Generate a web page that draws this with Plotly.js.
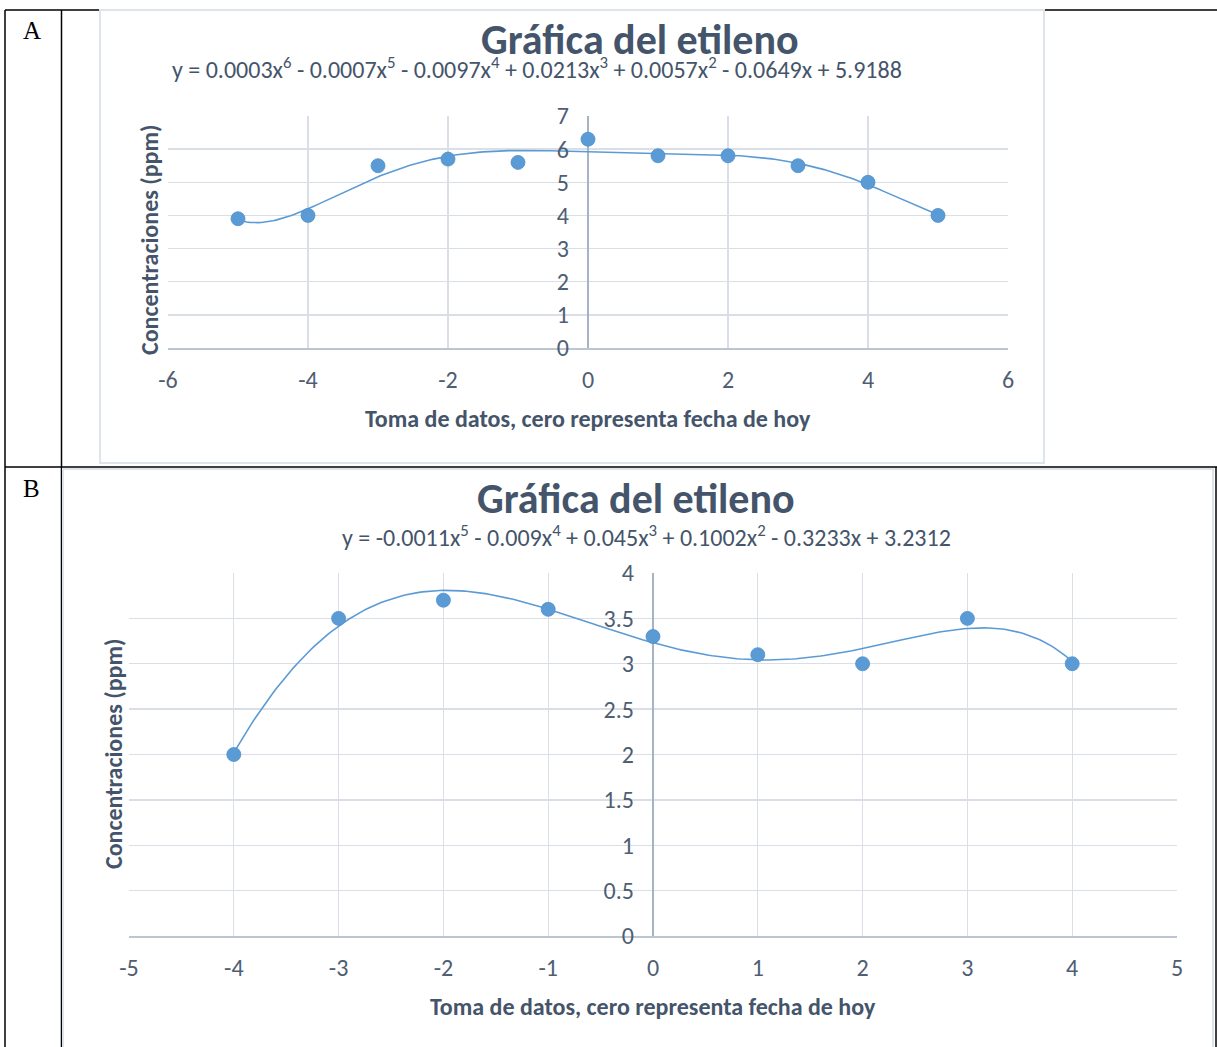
<!DOCTYPE html>
<html>
<head>
<meta charset="utf-8">
<script src="https://cdn.plot.ly/plotly-3.0.1.min.js"></script>
<style>
  html, body { margin: 0; padding: 0; background: #ffffff; }
  #chart { width: 1217px; height: 1047px; }
</style>
</head>
<body>
<div id="chart"></div>
<script>
// Ethylene readings: day offset (0 = today) and concentration in ppm
const daysA = [-5, -4, -3, -2, -1, 0, 1, 2, 3, 4, 5];
const ppmA  = [3.9, 4.0, 5.5, 5.7, 5.6, 6.3, 5.8, 5.8, 5.5, 5.0, 4.0];
const daysB = [-4, -3, -2, -1, 0, 1, 2, 3, 4];
const ppmB  = [2.0, 3.5, 3.7, 3.6, 3.3, 3.1, 3.0, 3.5, 3.0];

// Polynomial trendline order for each chart
const orderA = 6;
const orderB = 5;

// Axis ticks
const xTickValsA = [-6, -4, -2, 0, 2, 4, 6];
const xTickTextA = ['-6', '-4', '-2', '0', '2', '4', '6'];
const yTickValsA = [0, 1, 2, 3, 4, 5, 6, 7];
const yTickTextA = ['0', '1', '2', '3', '4', '5', '6', '7'];
const xTickValsB = [-5, -4, -3, -2, -1, 0, 1, 2, 3, 4, 5];
const xTickTextB = ['-5', '-4', '-3', '-2', '-1', '0', '1', '2', '3', '4', '5'];
const yTickValsB = [0, 0.5, 1, 1.5, 2, 2.5, 3, 3.5, 4];
const yTickTextB = ['0', '0.5', '1', '1.5', '2', '2.5', '3', '3.5', '4'];

// Labels
const titleText = 'Gráfica del etileno';
const xTitle = 'Toma de datos, cero representa fecha de hoy';
const yTitle = 'Concentraciones (ppm)';
const eqA = 'y = 0.0003x<sup>6</sup> - 0.0007x<sup>5</sup> - 0.0097x<sup>4</sup> + 0.0213x<sup>3</sup> + 0.0057x<sup>2</sup> - 0.0649x + 5.9188';
const eqB = 'y = -0.0011x<sup>5</sup> - 0.009x<sup>4</sup> + 0.045x<sup>3</sup> + 0.1002x<sup>2</sup> - 0.3233x + 3.2312';
const panelLabels = ['A', 'B'];

// Least-squares polynomial fit (normal equations, Gaussian elimination)
function polyFit(xs, ys, deg) {
  const n = deg + 1;
  const M = [];
  for (let i = 0; i < n; i++) {
    const row = [];
    for (let j = 0; j < n; j++) {
      let s = 0;
      for (let k = 0; k < xs.length; k++) s += Math.pow(xs[k], i + j);
      row.push(s);
    }
    let r = 0;
    for (let k = 0; k < xs.length; k++) r += ys[k] * Math.pow(xs[k], i);
    row.push(r);
    M.push(row);
  }
  for (let c = 0; c < n; c++) {
    let p = c;
    for (let r = c + 1; r < n; r++) if (Math.abs(M[r][c]) > Math.abs(M[p][c])) p = r;
    [M[c], M[p]] = [M[p], M[c]];
    for (let r = 0; r < n; r++) {
      if (r === c) continue;
      const f = M[r][c] / M[c][c];
      for (let k = c; k <= n; k++) M[r][k] -= f * M[c][k];
    }
  }
  return M.map((row, i) => row[n] / row[i]);
}
function trend(xs, ys, deg) {
  const coef = polyFit(xs, ys, deg);
  const lo = Math.min(...xs), hi = Math.max(...xs);
  const tx = [], ty = [];
  const steps = 240;
  for (let i = 0; i <= steps; i++) {
    const x = lo + (hi - lo) * i / steps;
    let y = 0;
    for (let k = coef.length - 1; k >= 0; k--) y = y * x + coef[k];
    tx.push(x); ty.push(y);
  }
  return { x: tx, y: ty };
}

// Page geometry helpers (pixel -> paper fraction)
const W = 1217, H = 1047;
const fx = p => p / W;
const fy = p => 1 - p / H;

const FONT = 'Carlito, Calibri, Lato, sans-serif';
const TXT = '#44546a';
const TICK = '#4f5e73';
const BLUE = '#5b9bd5';
const GRID = '#d9dee7';

const tA = trend(daysA, ppmA, orderA);
const tB = trend(daysB, ppmB, orderB);

const traces = [
  { x: tA.x, y: tA.y, xaxis: 'x', yaxis: 'y', mode: 'lines',
    line: { color: BLUE, width: 1.6 }, hoverinfo: 'skip', showlegend: false },
  { x: daysA, y: ppmA, xaxis: 'x', yaxis: 'y', mode: 'markers',
    marker: { color: BLUE, size: 14, line: { color: '#4f8fcb', width: 0.8 } }, showlegend: false },
  { x: tB.x, y: tB.y, xaxis: 'x2', yaxis: 'y2', mode: 'lines',
    line: { color: BLUE, width: 1.6 }, hoverinfo: 'skip', showlegend: false },
  { x: daysB, y: ppmB, xaxis: 'x2', yaxis: 'y2', mode: 'markers',
    marker: { color: BLUE, size: 14, line: { color: '#4f8fcb', width: 0.8 } }, showlegend: false }
];

function xAxis(dom, range, vals, text, yref) {
  return {
    domain: [fx(dom[0]), fx(dom[1])], range: range,
    tickmode: 'array', tickvals: vals, ticktext: text,
    anchor: yref, showgrid: true, gridcolor: GRID, gridwidth: 1.3,
    zeroline: true, zerolinecolor: '#a6b3c5', zerolinewidth: 1.2,
    showline: true, linecolor: '#bcc5d2', linewidth: 2.2,
    ticks: '', ticklabelstandoff: 9,
    tickfont: { family: FONT, size: 24, color: TICK }, fixedrange: true
  };
}
function yAxis(dom, range, vals, text, posPx) {
  return {
    domain: [fy(dom[1]), fy(dom[0])], range: range,
    tickmode: 'array', tickvals: vals, ticktext: text,
    anchor: 'free', position: fx(posPx), showgrid: true, gridcolor: GRID, gridwidth: 1.3,
    zeroline: false, showline: false, ticks: '', ticklabelstandoff: 19,
    tickfont: { family: FONT, size: 24, color: TICK }, fixedrange: true
  };
}

const line = (x0, y0, x1, y1) => ({
  type: 'line', xref: 'paper', yref: 'paper', layer: 'below',
  x0: fx(x0), y0: fy(y0), x1: fx(x1), y1: fy(y1),
  line: { color: '#000000', width: 1.5 }
});

const shapes = [
  // table rules
  line(5, 10, 1217, 10),
  line(5, 10, 5, 1047),
  line(61.5, 10, 61.5, 1047),
  line(5, 467, 1217, 467),
  line(1216, 467, 1216, 1047),
  // chart frames
  { type: 'rect', xref: 'paper', yref: 'paper', layer: 'below',
    x0: fx(100), y0: fy(463), x1: fx(1044), y1: fy(10),
    fillcolor: '#ffffff', line: { color: '#dfe3ea', width: 2 } },
  { type: 'rect', xref: 'paper', yref: 'paper', layer: 'below',
    x0: fx(63), y0: fy(1060), x1: fx(1213), y1: fy(469),
    fillcolor: '#ffffff', line: { color: '#dfe3ea', width: 2 } }
];

const ann = (text, xp, yp, size, opts) => Object.assign({
  text: text, xref: 'paper', yref: 'paper', x: fx(xp), y: fy(yp),
  xanchor: 'center', yanchor: 'middle', showarrow: false,
  font: { family: FONT, size: size, color: TXT }
}, opts || {});

const serif = { family: 'Liberation Serif, serif', size: 25, color: '#000000' };

const annotations = [
  ann('<b>' + titleText + '</b>', 640, 39, 42),
  ann(eqA, 537, 68, 24),
  ann('<b>' + xTitle + '</b>', 588, 418, 24),
  ann('<b>' + yTitle + '</b>', 150, 240, 24, { textangle: -90 }),
  ann('<b>' + titleText + '</b>', 636, 499, 42),
  ann(eqB, 646, 536, 24),
  ann('<b>' + xTitle + '</b>', 653, 1006, 24),
  ann('<b>' + yTitle + '</b>', 113, 754, 24, { textangle: -90 }),
  ann(panelLabels[0], 32, 31, 25, { font: serif }),
  ann(panelLabels[1], 31, 489, 25, { font: serif })
];

const layout = {
  width: W, height: H,
  margin: { l: 0, r: 0, t: 0, b: 0 },
  paper_bgcolor: '#ffffff', plot_bgcolor: 'rgba(0,0,0,0)',
  showlegend: false,
  xaxis: xAxis([168, 1008], [-6, 6], xTickValsA, xTickTextA, 'y'),
  yaxis: yAxis([116, 348], [0, 7], yTickValsA, yTickTextA, 588),
  xaxis2: xAxis([129, 1177], [-5, 5], xTickValsB, xTickTextB, 'y2'),
  yaxis2: yAxis([573, 936], [0, 4], yTickValsB, yTickTextB, 653),
  shapes: shapes,
  annotations: annotations
};

Plotly.newPlot('chart', traces, layout, { displayModeBar: false, staticPlot: true });
</script>
</body>
</html>
